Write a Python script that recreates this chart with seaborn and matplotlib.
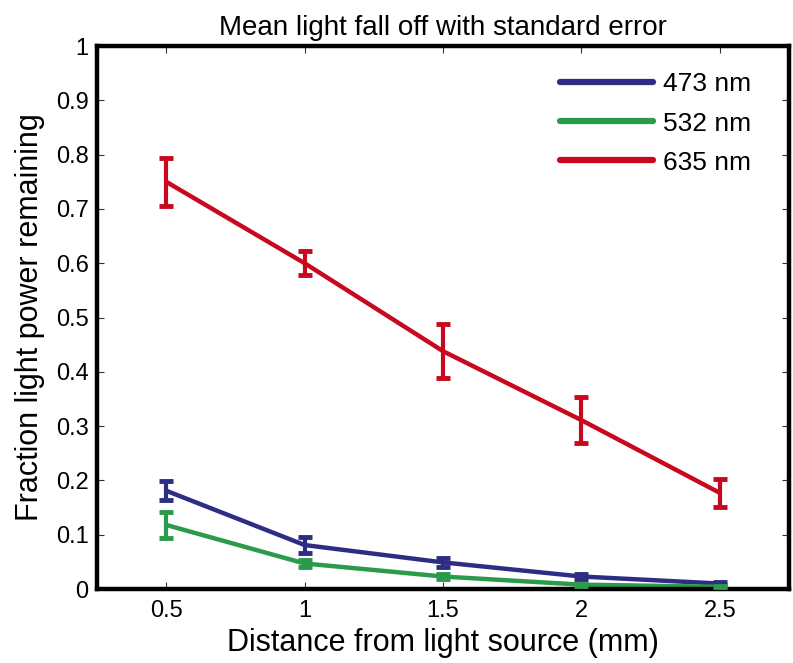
import matplotlib
matplotlib.use("Agg")
import matplotlib.pyplot as plt
import seaborn as sns
import pandas as pd
import numpy as np

distance = [0.5, 1.0, 1.5, 2.0, 2.5]
mean_473 = [0.181, 0.081, 0.049, 0.023, 0.010]
err_473 = [0.017, 0.014, 0.008, 0.004, 0.002]
mean_532 = [0.118, 0.047, 0.023, 0.008, 0.004]
err_532 = [0.024, 0.006, 0.004, 0.002, 0.001]
mean_635 = [0.750, 0.600, 0.438, 0.311, 0.177]
err_635 = [0.044, 0.022, 0.050, 0.043, 0.026]
labels = ["473 nm", "532 nm", "635 nm"]
colors = ["#2e2d86", "#2b9a4a", "#c8081e"]
x_ticks = [0.5, 1, 1.5, 2, 2.5]
x_ticklabels = ["0.5", "1", "1.5", "2", "2.5"]
y_ticks = [0, 0.1, 0.2, 0.3, 0.4, 0.5, 0.6, 0.7, 0.8, 0.9, 1.0]
y_ticklabels = ["0", "0.1", "0.2", "0.3", "0.4", "0.5", "0.6", "0.7", "0.8", "0.9", "1"]

sns.set_theme(style="white")
plt.rcParams['font.family'] = ['Liberation Sans', 'DejaVu Sans']
plt.rcParams['text.color'] = 'black'
plt.rcParams['axes.labelcolor'] = 'black'
plt.rcParams['xtick.color'] = 'black'
plt.rcParams['ytick.color'] = 'black'

rows = []
for lab, m, e in zip(labels, [mean_473, mean_532, mean_635], [err_473, err_532, err_635]):
    for d, mv, ev in zip(distance, m, e):
        rows.append({"distance": d, "value": mv, "err": ev, "wavelength": lab})
df = pd.DataFrame(rows)

fig = plt.figure(figsize=(7.93, 6.63), dpi=100)
ax = fig.add_axes([0.1223, 0.1116, 0.8727, 0.8190])

sns.lineplot(data=df, x="distance", y="value", hue="wavelength",
             palette=colors, linewidth=3.2, ax=ax, legend=True, errorbar=None)

for lab, col in zip(labels, colors):
    sub = df[df["wavelength"] == lab]
    ax.errorbar(sub["distance"], sub["value"], yerr=sub["err"], fmt="none",
                ecolor=col, elinewidth=3, capsize=5, capthick=3.5, zorder=3)

ax.set_xlim(0.25, 2.75)
ax.set_ylim(0, 1)
ax.set_xticks(x_ticks)
ax.set_xticklabels(x_ticklabels)
ax.set_yticks(y_ticks)
ax.set_yticklabels(y_ticklabels)

for s in ax.spines.values():
    s.set_visible(True)
    s.set_color("black")
    s.set_linewidth(3.2)

ax.tick_params(axis="both", which="both", direction="in", length=5, width=0.8,
               colors="#333333", labelcolor="black", labelsize=17,
               top=True, right=True, left=True, bottom=True)
ax.tick_params(axis="x", pad=8)
ax.tick_params(axis="y", pad=6)

ax.set_xlabel("Distance from light source (mm)", fontsize=22, labelpad=4, color="black")
ax.set_ylabel("Fraction light power remaining", fontsize=22, labelpad=8, color="black")
ax.set_title("Mean light fall off with standard error", fontsize=20, pad=8, color="black")

leg = ax.legend(loc="upper right", frameon=False, fontsize=19,
                handlelength=3.5, handletextpad=0.4, labelspacing=0.57,
                bbox_to_anchor=(0.98, 0.995))
for line in leg.get_lines():
    line.set_linewidth(4.5)
for t in leg.get_texts():
    t.set_color("black")

fig.savefig("out.png", dpi=100)
